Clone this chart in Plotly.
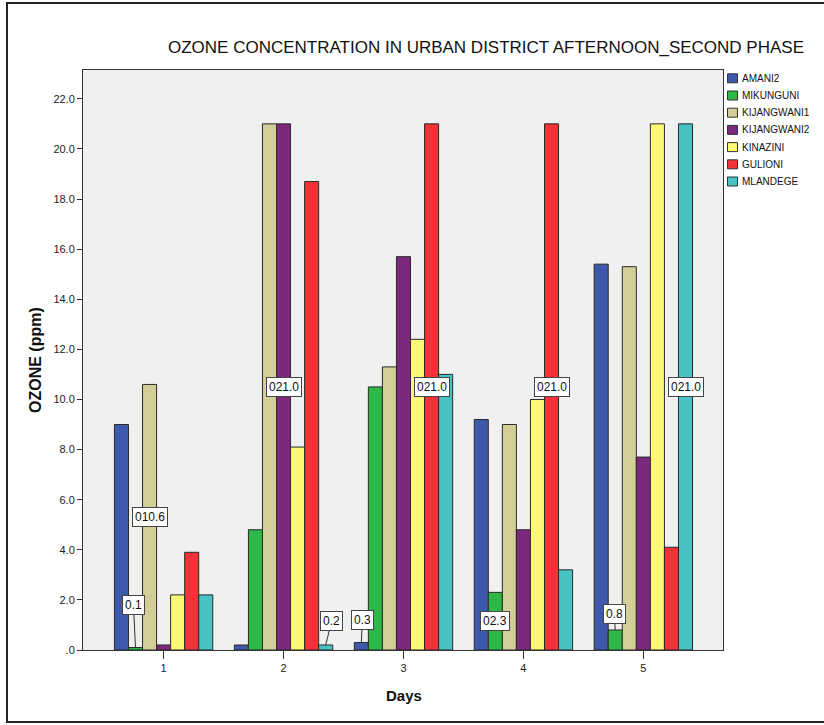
import plotly.graph_objects as go

# Ozone readings (ppm) per site over five days
days = [1, 2, 3, 4, 5]
sites = ["AMANI2", "MIKUNGUNI", "KIJANGWANI1", "KIJANGWANI2", "KINAZINI", "GULIONI", "MLANDEGE"]
amani2 = [9.0, 0.2, 0.3, 9.2, 15.4]
mikunguni = [0.1, 4.8, 10.5, 2.3, 0.8]
kijangwani1 = [10.6, 21.0, 11.3, 9.0, 15.3]
kijangwani2 = [0.2, 21.0, 15.7, 4.8, 7.7]
kinazini = [2.2, 8.1, 12.4, 10.0, 21.0]
gulioni = [3.9, 18.7, 21.0, 21.0, 4.1]
mlandege = [2.2, 0.2, 11.0, 3.2, 21.0]
series = [amani2, mikunguni, kijangwani1, kijangwani2, kinazini, gulioni, mlandege]

y_tick_vals = [0, 2, 4, 6, 8, 10, 12, 14, 16, 18, 20, 22]
y_tick_text = [".0", "2.0", "4.0", "6.0", "8.0", "10.0", "12.0", "14.0", "16.0", "18.0", "20.0", "22.0"]

# Bars that carry a value label: (site index, day)
labelled = [(1, 1), (2, 1), (3, 2), (6, 2), (0, 3), (5, 3), (1, 4), (5, 4), (1, 5), (6, 5)]

colors = ["#3E58AC", "#2EB848", "#D3CE97", "#7C287D", "#FBF873", "#EF3338", "#48C2C5"]
# pixel offsets of callout boxes for short bars (others sit mid-bar)
callout_offsets = {(1, 1): (-2, -42), (6, 2): (6, -24), (0, 3): (1, -22), (1, 5): (-1, -16)}

W, H = 824, 725
L, R, T, B = 83, 101, 70, 75
PW, PH = W - L - R, H - T - B
BARGAP = 0.18
FONT = "Liberation Sans, Arial"


def px_x(px):
    return (px - L) / PW


def px_y(py):
    return (H - B - py) / PH


def label_text(v):
    return f"0{v:.1f}" if v >= 1 else f"{v:.1f}"


fig = go.Figure()
for name, vals, col in zip(sites, series, colors):
    fig.add_trace(go.Bar(
        x=days, y=vals, name=name,
        marker=dict(color=col, line=dict(color="#2a2a2a", width=1)),
        showlegend=False,
    ))

annotations = []
slot = (1 - BARGAP) / len(sites)
for si, day in labelled:
    v = series[si][days.index(day)]
    xc = day - (1 - BARGAP) / 2 + (si + 0.5) * slot
    common = dict(
        text=label_text(v), xref="x", yref="y",
        font=dict(family=FONT, size=12, color="#111"),
        bgcolor="white", bordercolor="#444", borderwidth=1, borderpad=2,
    )
    if (si, day) in callout_offsets:
        dx, dy = callout_offsets[(si, day)]
        annotations.append(dict(
            x=xc, y=v, showarrow=True, arrowhead=0, arrowwidth=1,
            arrowcolor="#333", standoff=0, ax=dx, ay=dy, **common))
    else:
        annotations.append(dict(x=xc, y=v / 2, showarrow=False,
                                xanchor="center", yanchor="middle", **common))

# Legend drawn beside the plot area
shapes = []
for i, (name, col) in enumerate(zip(sites, colors)):
    cy = 78.3 + 17.2 * i
    shapes.append(dict(type="rect", xref="paper", yref="paper",
                       x0=px_x(727.5), x1=px_x(737.5), y0=px_y(cy + 4.5), y1=px_y(cy - 4.5),
                       fillcolor=col, line=dict(color="#333", width=1)))
    annotations.append(dict(x=px_x(740), y=px_y(cy), xref="paper", yref="paper",
                            text=name, showarrow=False, xanchor="left", yanchor="middle",
                            font=dict(family=FONT, size=10, color="#111")))

# Outer frame
shapes.append(dict(type="rect", xref="paper", yref="paper",
                   x0=px_x(7), x1=px_x(832), y0=px_y(722), y1=px_y(3),
                   line=dict(color="#222", width=2), fillcolor="rgba(0,0,0,0)", layer="above"))

# Title and axis titles
annotations.append(dict(x=px_x(486), y=px_y(47), xref="paper", yref="paper",
                        text="OZONE CONCENTRATION IN URBAN DISTRICT AFTERNOON_SECOND PHASE",
                        showarrow=False, xanchor="center", yanchor="middle",
                        font=dict(family=FONT, size=17, color="#111")))
annotations.append(dict(x=px_x(404), y=px_y(695), xref="paper", yref="paper",
                        text="<b>Days</b>", showarrow=False, xanchor="center", yanchor="middle",
                        font=dict(family=FONT, size=15, color="#111")))
annotations.append(dict(x=px_x(35), y=px_y(360), xref="paper", yref="paper",
                        text="<b>OZONE (ppm)</b>", showarrow=False, textangle=-90,
                        xanchor="center", yanchor="middle",
                        font=dict(family=FONT, size=16, color="#111")))

fig.update_layout(
    width=W, height=H,
    margin=dict(l=L, r=R, t=T, b=B, pad=0),
    paper_bgcolor="white",
    plot_bgcolor="#F0F0F0",
    barmode="group", bargap=BARGAP, bargroupgap=0,
    xaxis=dict(range=[0.328, 5.664], tickvals=days, ticktext=[str(d) for d in days],
               ticks="outside", ticklen=8, tickcolor="#333", showgrid=False, zeroline=False,
               showline=True, mirror=True, linecolor="#333", linewidth=1,
               tickfont=dict(family=FONT, size=11, color="#222")),
    yaxis=dict(range=[0, 23.15], tickvals=y_tick_vals, ticktext=y_tick_text,
               ticks="outside", ticklen=5, tickcolor="#333", showgrid=False, zeroline=False,
               showline=True, mirror=True, linecolor="#333", linewidth=1,
               tickfont=dict(family=FONT, size=11, color="#222")),
    annotations=annotations,
    shapes=shapes,
)

fig.write_html("out.html")
